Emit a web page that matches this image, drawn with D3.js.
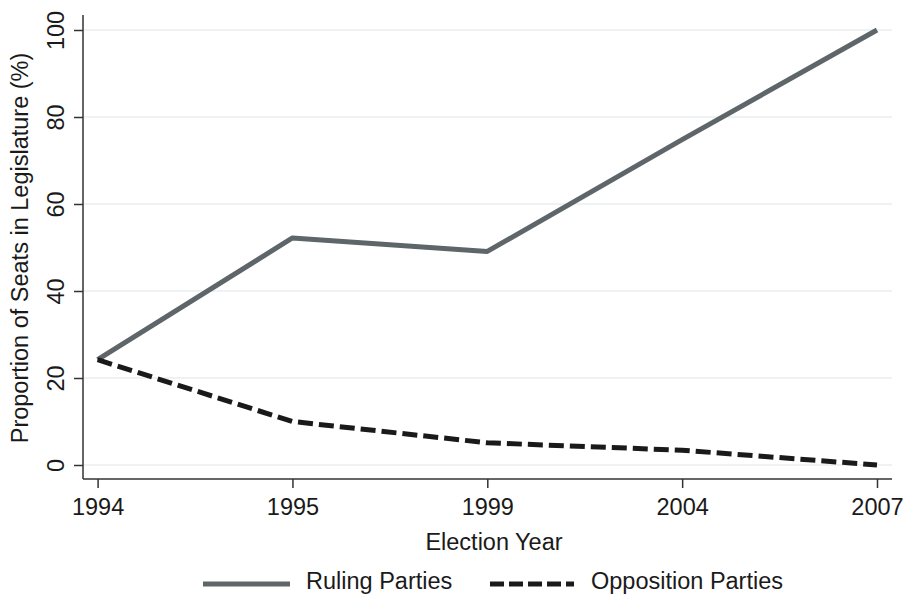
<!DOCTYPE html>
<html><head><meta charset="utf-8">
<script src="https://cdn.jsdelivr.net/npm/d3@7"></script>
<style>body{margin:0;background:#fff}svg{display:block}text{font-family:"Liberation Sans",Arial,sans-serif;fill:#1a1a1a}</style>
</head><body>
<script>
const years = ["1994","1995","1999","2004","2007"];
const ruling = [24.2, 52.2, 49.1, 74.8, 100];
const opposition = [24.2, 10.0, 5.1, 3.4, 0];
const yTicks = [0, 20, 40, 60, 80, 100];
const seriesNames = ["Ruling Parties", "Opposition Parties"];

const W = 904, H = 595, FS = 23.5;
const svg = d3.select("body").append("svg").attr("width", W).attr("height", H);

const x = d3.scalePoint().domain(years).range([97.6, 877]);
const y = d3.scaleLinear().domain([0, 100]).range([465, 30]);
const plotL = 83, plotR = 892, plotT = 15, plotB = 479;

// gridlines
svg.append("g").selectAll("line").data(yTicks).join("line")
  .attr("x1", plotL).attr("x2", plotR)
  .attr("y1", d => y(d)).attr("y2", d => y(d))
  .attr("stroke", "#eaeef1").attr("stroke-width", 1.5);

// y axis
const yAxis = svg.append("g").attr("transform", `translate(${plotL},0)`)
  .call(d3.axisLeft(y).tickValues(yTicks).tickSize(9).tickPadding(0).tickFormat(d3.format("d")));
yAxis.select(".domain").attr("d", `M0,${plotT}V${plotB}`);
yAxis.selectAll("path,line").attr("stroke", "#333").attr("stroke-width", 1.5);
yAxis.selectAll("text").attr("font-size", FS).attr("fill", "#1a1a1a")
  .attr("text-anchor", "middle").attr("dy", null).attr("x", null)
  .attr("transform", "translate(-19,0) rotate(-90)");

// x axis
const xAxis = svg.append("g").attr("transform", `translate(0,${plotB})`)
  .call(d3.axisBottom(x).tickSize(9).tickPadding(10));
xAxis.select(".domain").attr("d", `M${plotL},0H${plotR}`);
xAxis.selectAll("path,line").attr("stroke", "#333").attr("stroke-width", 1.5);
xAxis.selectAll("text").attr("font-size", FS).attr("fill", "#1a1a1a");

// axis titles
svg.append("text").attr("x", 494).attr("y", 550).attr("text-anchor", "middle")
  .attr("font-size", FS).text("Election Year");
svg.append("text").attr("transform", "translate(28,248) rotate(-90)")
  .attr("text-anchor", "middle").attr("font-size", FS)
  .text("Proportion of Seats in Legislature (%)");

// lines
const line = d3.line().x((d, i) => x(years[i])).y(d => y(d));
svg.append("path").datum(ruling).attr("d", line).attr("fill", "none")
  .attr("stroke", "#5e6669").attr("stroke-width", 5).attr("stroke-linejoin", "round");
svg.append("path").datum(opposition).attr("d", line).attr("fill", "none")
  .attr("stroke", "#1a1a1a").attr("stroke-width", 5).attr("stroke-dasharray", "15,6");

// legend
const lg = svg.append("g");
lg.append("line").attr("x1", 203).attr("x2", 290).attr("y1", 584).attr("y2", 584)
  .attr("stroke", "#5e6669").attr("stroke-width", 5);
lg.append("text").attr("x", 306).attr("y", 589).attr("font-size", FS).text(seriesNames[0]);
lg.append("line").attr("x1", 490).attr("x2", 574).attr("y1", 584).attr("y2", 584)
  .attr("stroke", "#1a1a1a").attr("stroke-width", 5).attr("stroke-dasharray", "14,5");
lg.append("text").attr("x", 591).attr("y", 589).attr("font-size", FS).text(seriesNames[1]);
</script>
</body></html>
